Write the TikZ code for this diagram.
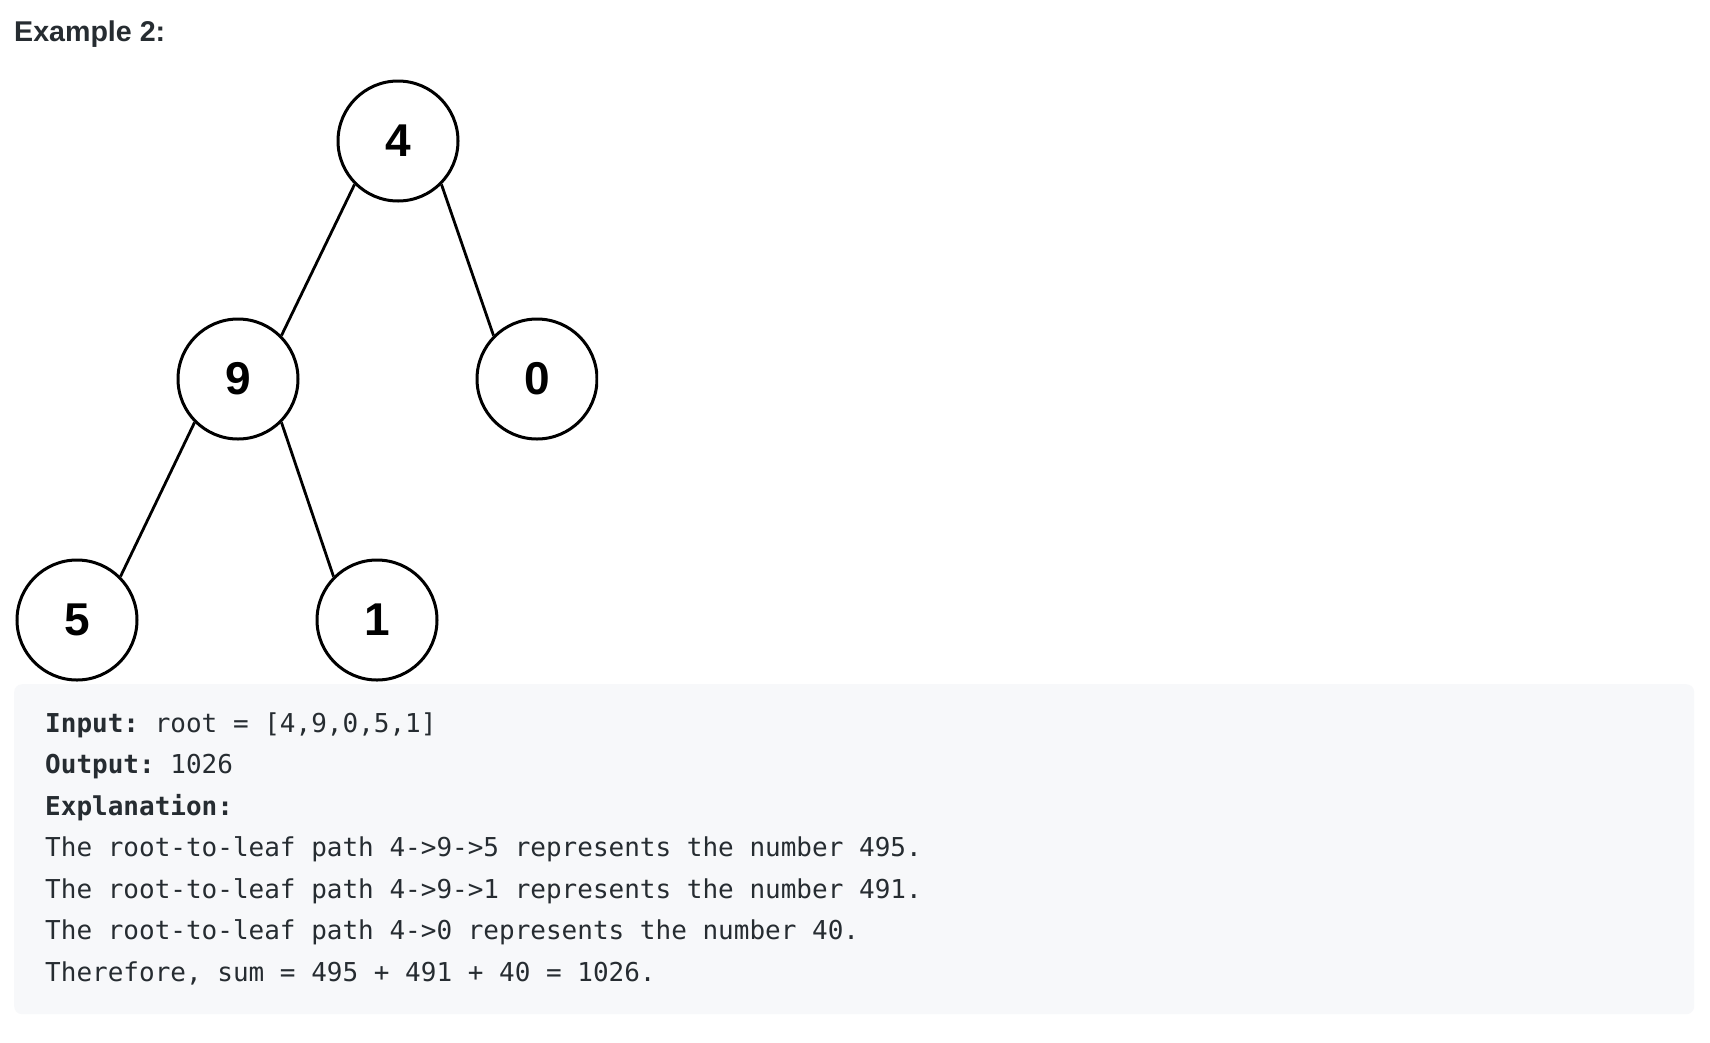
\documentclass[tikz,border=0pt]{standalone}
\usepackage{fontspec}
\setmainfont{Liberation Sans}
\newfontfamily\monof{DejaVu Sans Mono}
\definecolor{txt}{RGB}{38,44,49}
\definecolor{boxbg}{RGB}{247,248,250}
\begin{document}
\begin{tikzpicture}[x=1pt,y=-1pt,
  treenode/.style={circle,draw=black,line width=3pt,minimum size=120pt,inner sep=0pt,
    font=\fontsize{46}{46}\selectfont\bfseries},
  edge/.style={line width=2.8pt},
  codeline/.style={anchor=base west,inner sep=0pt,text=txt,font=\monof\fontsize{26}{30}\selectfont\frenchspacing},
  titletext/.style={anchor=base west,inner sep=0pt,text=txt,font=\fontsize{28.6}{30}\selectfont\bfseries},
  codebox/.style={fill=boxbg,rounded corners=8pt,inner sep=0pt,anchor=north west,
    minimum width=1680pt,minimum height=330pt}]
\useasboundingbox (0,0) rectangle (1710,1042);
\fill[white] (0,0) rectangle (1710,1042);

\node[titletext] (title) at (14,41) {Example 2:};

\begin{scope}
\clip (0,60) rectangle (598,700);
\node[treenode] (n4) at (398,141) {4};
\node[treenode] (n9) at (238,379) {9};
\node[treenode] (n0) at (537,379) {0};
\node[treenode] (n5) at (77,620) {5};
\node[treenode] (n1) at (377,620) {1};
\draw[edge] (n4.south west) -- (n9.north east);
\draw[edge] (n4.south east) -- (n0.north west);
\draw[edge] (n9.south west) -- (n5.north east);
\draw[edge] (n9.south east) -- (n1.north west);
\end{scope}

\node[codebox] (box) at (14,684) {};

\node[codeline] (l1) at (45,732) {\textbf{Input:} root = [4,9,0,5,1]};
\node[codeline] (l2) at (45,773.5) {\textbf{Output:} 1026};
\node[codeline] (l3) at (45,815) {\textbf{Explanation:}};
\node[codeline] (l4) at (45,856.5) {The root-to-leaf path 4->9->5 represents the number 495.};
\node[codeline] (l5) at (45,898) {The root-to-leaf path 4->9->1 represents the number 491.};
\node[codeline] (l6) at (45,939.5) {The root-to-leaf path 4->0 represents the number 40.};
\node[codeline] (l7) at (45,981) {Therefore, sum = 495 + 491 + 40 = 1026.};
\end{tikzpicture}
\end{document}
